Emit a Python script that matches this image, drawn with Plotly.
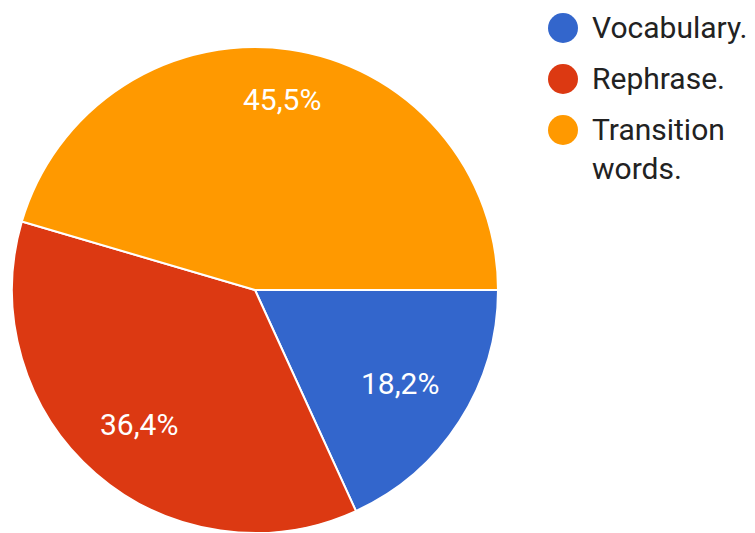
import math
import plotly.graph_objects as go

categories = ["Vocabulary.", "Rephrase.", "Transition words."]
legend_labels = ["Vocabulary.", "Rephrase.", "Transition<br>words."]
values = [2, 4, 5]
colors = ["#3366cc", "#dc3912", "#ff9900"]

W, H = 755, 533
OFF = 8  # page body margin
cx, cy, R = 255 - OFF, 290 - OFF, 243  # pie centre/radius in figure pixels
label_radius = [0.71, 0.73, 0.79]

fig = go.Figure()
fig.add_trace(go.Pie(
    labels=categories,
    values=values,
    sort=False,
    direction="clockwise",
    rotation=90,
    marker=dict(colors=colors, line=dict(color="white", width=2)),
    textinfo="none",
    domain=dict(x=[(cx - R) / W, (cx + R) / W],
                y=[(H - cy - R) / H, (H - cy + R) / H]),
    showlegend=False,
    hoverinfo="label+percent",
))

# percentage labels placed at each slice's mid-angle
total = sum(values)
cum = 0
for v, rf in zip(values, label_radius):
    mid = (cum + v / 2) / total * 2 * math.pi  # clockwise from 3 o'clock
    cum += v
    px = cx + rf * R * math.cos(mid)
    py = cy + rf * R * math.sin(mid)
    pct = f"{v / total * 100:.1f}".replace(".", ",") + "%"
    fig.add_annotation(x=px / W, y=1 - py / H, xref="paper", yref="paper",
                       text=pct, showarrow=False, xanchor="center", yanchor="middle",
                       font=dict(family="Roboto", size=30, color="white"))

# custom legend with circle symbols
legend_y = [28 - OFF, 79 - OFF, 130 - OFF]
lx, rr = 563 - OFF, 15
for lab, col, yy in zip(legend_labels, colors, legend_y):
    fig.add_shape(type="circle", xref="paper", yref="paper",
                  x0=(lx - rr) / W, x1=(lx + rr) / W,
                  y0=1 - (yy + rr) / H, y1=1 - (yy - rr) / H,
                  fillcolor=col, line=dict(width=0))
    fig.add_annotation(x=(590 - OFF) / W, y=1 - (yy - 20) / H, xref="paper", yref="paper",
                       text=lab, showarrow=False, xanchor="left", yanchor="top",
                       align="left",
                       font=dict(family="Roboto", size=30, color="#222222"))

fig.update_layout(
    width=W, height=H,
    margin=dict(l=0, r=0, t=0, b=0),
    paper_bgcolor="white",
    plot_bgcolor="white",
    font=dict(family="Roboto"),
)
fig.write_html("out.html")
